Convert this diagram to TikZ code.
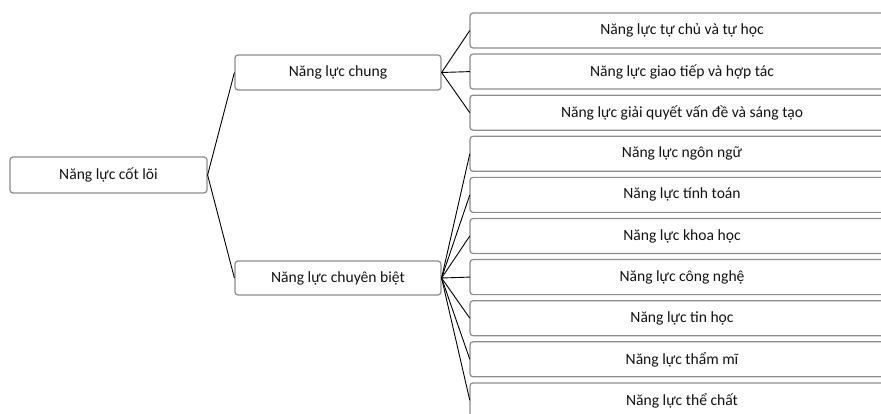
\documentclass[tikz,border=0pt]{standalone}
\usepackage{fontspec}
\setmainfont{Carlito}
\definecolor{boxline}{RGB}{140,140,140}
\definecolor{txt}{RGB}{20,20,20}
\begin{document}
\begin{tikzpicture}[x=1pt,y=-1pt,
  box/.style={draw=boxline, line width=1.2pt, rounded corners=3pt, fill=white,
    inner sep=0pt, text=txt, font=\fontsize{15.6}{18}\selectfont},
  leaf/.style={inner sep=0pt, text=txt, font=\fontsize{15.6}{18}\selectfont,
    minimum width=424pt, minimum height=35pt},
  frame/.style={draw=boxline, line width=1.2pt, rounded corners=3pt, fill=white},
  conn/.style={draw=black, line width=0.9pt}]
\useasboundingbox (0,0) rectangle (881,414);
\clip (0,0) rectangle (881,414);
% root and level 1
\node[box, minimum width=197pt, minimum height=36pt] (root) at (108.5,175) {Năng lực cốt lõi};
\node[box, minimum width=206pt, minimum height=35pt] (chung) at (338,72.5) {Năng lực chung};
\node[box, minimum width=206pt, minimum height=34pt] (cb) at (338,278) {Năng lực chuyên biệt};
% level 2 (boxes run past the right edge)
\foreach \n/\t [count=\i from 0] in {a/{Năng lực tự chủ và tự học},
  b/{Năng lực giao tiếp và hợp tác},
  c/{Năng lực giải quyết vấn đề và sáng tạo},
  d/{Năng lực ngôn ngữ},
  e/{Năng lực tính toán},
  f/{Năng lực khoa học},
  g/{Năng lực công nghệ},
  h/{Năng lực tin học},
  i/{Năng lực thẩm mĩ},
  j/{Năng lực thể chất}}
  {
  \path[frame] (470,30.5+41.1*\i-17.5) rectangle (960,30.5+41.1*\i+17.5);
  \node[leaf] (\n) at (682,30.5+41.1*\i) {\t};
  }
% connectors
\draw[conn] (root.east) -- (chung.west);
\draw[conn] (root.east) -- (cb.west);
\foreach \n in {a,b,c} \draw[conn] (chung.east) -- (\n.west);
\foreach \n in {d,e,f,g,h,i,j} \draw[conn] (cb.east) -- (\n.west);
\end{tikzpicture}
\end{document}
